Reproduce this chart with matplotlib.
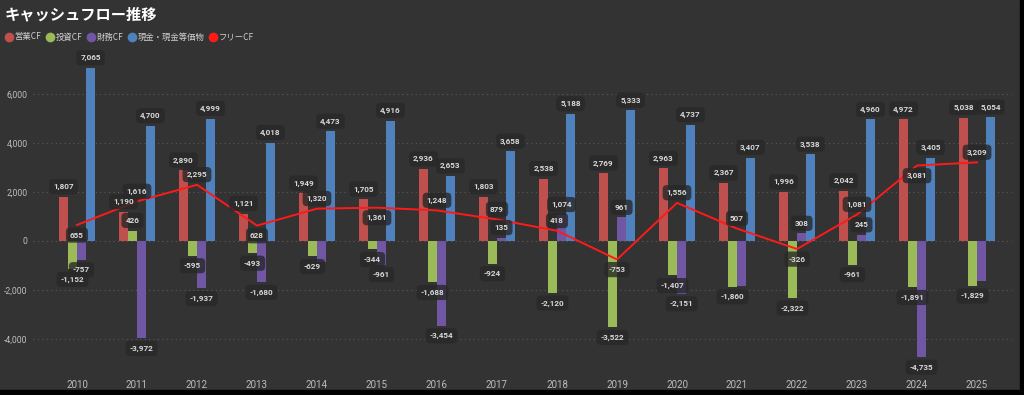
import matplotlib
matplotlib.use("Agg")
import matplotlib.pyplot as plt
import matplotlib.patches as mpatches
from matplotlib.lines import Line2D
import numpy as np

plt.rcParams['font.family'] = ['Noto Sans CJK JP', 'DejaVu Sans']

years = list(range(2010, 2026))
operating_cf = [1807, 1190, 2890, 1121, 1949, 1705, 2936, 1803, 2538, 2769, 2963, 2367, 1996, 2042, 4972, 5038]
investing_cf = [-1152, 426, -595, -493, -629, -344, -1688, -924, -2120, -3522, -1407, -1860, -2322, -961, -1891, -1829]
financing_cf = [-757, -3972, -1937, -1680, -850, -961, -3454, 135, 1074, 961, -2151, -1820, 308, 245, -4735, -1630]
cash = [7065, 4700, 4999, 4018, 4473, 4916, 2653, 3658, 5188, 5333, 4737, 3407, 3538, 4960, 3405, 5054]
free_cf = [655, 1616, 2295, 628, 1320, 1361, 1248, 879, 418, -753, 1556, 507, -326, 1081, 3081, 3209]

series_names = ["営業CF", "投資CF", "財務CF", "現金・現金等価物"]
free_name = "フリーCF"
y_ticks = [-4000, -2000, 0, 2000, 4000, 6000]

# styling
bg = "#333333"
colors = ["#c0504d", "#9bbb59", "#7156a3", "#4f81bd"]
free_color = "#ff1a1a"
label_fc = "#282828"
label_tc = "#d8d8d8"
hidden_fin_labels = {2014, 2021, 2025}   # labels the original drops (overlap)
free_label_up = [False, True, True, False, True, False, True, True, True, False, True, True, False, True, False, True]

fig = plt.figure(figsize=(10.24, 3.95), dpi=100, facecolor=bg)
ax = fig.add_axes([33 / 1024, (395 - 368.4) / 395, (1012 - 33) / 1024, 318.5 / 395])
ax.set_facecolor(bg)

x = np.arange(len(years))
w = 0.15
offsets = [-1.5 * w, -0.5 * w, 0.5 * w, 1.5 * w]
all_series = [operating_cf, investing_cf, financing_cf, cash]


def tag(xv, yv, txt, up):
    ax.annotate(txt, (xv, yv), xytext=(0, 7.3 if up else -7.3), textcoords="offset points",
                ha="center", va="center", fontsize=5.9, color=label_tc, fontweight="bold",
                family=["Roboto", "DejaVu Sans"], zorder=6,
                bbox=dict(boxstyle="round,pad=0.5,rounding_size=0.5", fc=label_fc, ec="none", alpha=0.8))


for k, (vals, off, col) in enumerate(zip(all_series, offsets, colors)):
    ax.bar(x + off, vals, width=w, color=col, zorder=2)
    for i, v in enumerate(vals):
        if k == 2 and years[i] in hidden_fin_labels:
            continue
        tag(x[i] + off, v, f"{v:,}", v >= 0)

ax.plot(x, free_cf, color=free_color, lw=1.4, zorder=4)
for i, v in enumerate(free_cf):
    tag(x[i], v, f"{v:,}", free_label_up[i])

ax.set_xlim(-0.733, 15.583)
ax.set_ylim(-5200, 7800)
ax.set_yticks(y_ticks)
ax.set_yticklabels([f"{t:,}" for t in y_ticks])
ax.set_xticks(x)
ax.set_xticklabels([str(y) for y in years])
ax.tick_params(axis="x", length=0, colors="#bdbdbd", labelsize=7, pad=8)
ax.tick_params(axis="y", length=0, colors="#bdbdbd", labelsize=6.2, pad=4)
for t in ax.get_yticklabels() + ax.get_xticklabels():
    t.set_family(["Roboto", "DejaVu Sans"])
ax.grid(axis="y", color="#5a5a5a", linestyle=(0, (1, 3)), lw=0.8, zorder=0)
for s in ax.spines.values():
    s.set_visible(False)

fig.text(5 / 1024, 1 - 14 / 395, "キャッシュフロー推移", color="white", fontsize=11,
         fontweight="bold", va="center", ha="left")

handles = [Line2D([], [], marker="o", linestyle="none", markersize=7, markerfacecolor=c,
                  markeredgecolor="none") for c in colors]
handles.append(Line2D([], [], marker="o", linestyle="none", markersize=7,
                      markerfacecolor=free_color, markeredgecolor="none"))
leg = fig.legend(handles, series_names + [free_name], loc="center left",
                 bbox_to_anchor=(3 / 1024, 1 - 37 / 395), ncol=5, frameon=False, fontsize=6,
                 handlelength=0.9, handletextpad=0.2, columnspacing=0.6, borderaxespad=0.1,
                 borderpad=0.2)
for t in leg.get_texts():
    t.set_color("#d0d0d0")

# black frame strips at bottom/right of the screenshot
fig.add_artist(mpatches.Rectangle((0, 0), 1, 5 / 395, transform=fig.transFigure, color="black"))
fig.add_artist(mpatches.Rectangle((1020 / 1024, 0), 4 / 1024, 1, transform=fig.transFigure, color="black"))

fig.savefig("out.png", dpi=100, facecolor=bg)
